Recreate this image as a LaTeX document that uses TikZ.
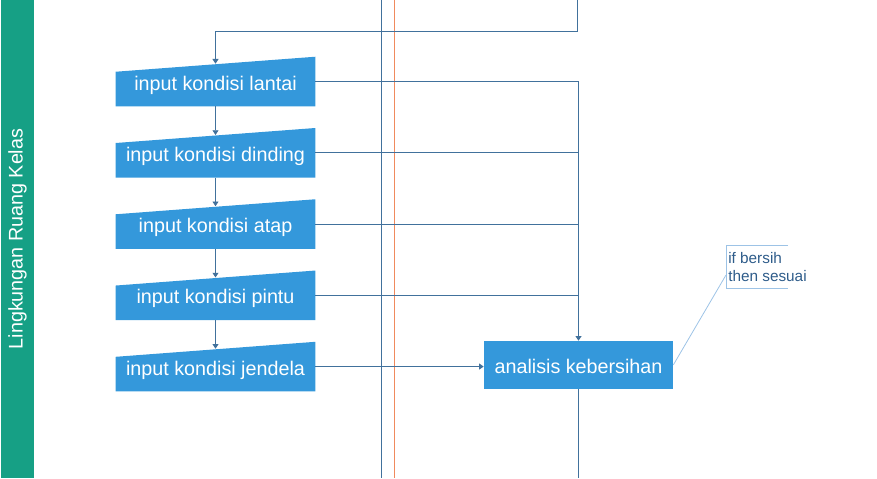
\documentclass[tikz,border=0pt]{standalone}
\usepackage{fontspec}
\setmainfont{Liberation Sans}
\usepackage{tikz}
\usetikzlibrary{arrows.meta,positioning,backgrounds,calc}
\definecolor{lanegreen}{HTML}{16A085}
\definecolor{boxblue}{HTML}{3498DB}
\definecolor{wire}{HTML}{41719C}
\definecolor{rust}{HTML}{F08A5D}
\definecolor{notewire}{HTML}{9DC3E6}
\definecolor{notetext}{HTML}{2E5C8A}

\begin{document}
\begin{tikzpicture}[
  x=0.75pt,y=-0.75pt,
  node distance=16.3pt,
  lane/.style={fill=lanegreen,rotate=90,minimum width=358.5pt,minimum height=24.75pt,inner sep=0pt,text=white,font=\fontsize{14.8}{17}\selectfont},
  inbox/.style={minimum width=149.25pt,minimum height=36.75pt,inner sep=0pt,text height=14pt,text depth=1.2pt,text=white,font=\fontsize{14.8}{17}\selectfont},
  procbox/.style={fill=boxblue,minimum width=141.75pt,minimum height=36pt,inner sep=0pt,text height=14pt,text depth=1.2pt,text=white,font=\fontsize{14.8}{17}\selectfont},
  note/.style={align=left,anchor=west,minimum height=31.5pt,inner xsep=1.5pt,inner ysep=0pt,text=notetext,font=\fontsize{11.5}{13.1}\selectfont},
  ln/.style={line width=0.65pt,color=wire},
  arr/.style={ln,-{Triangle[length=3.5pt,width=4.5pt]}},
  slant/.style={shorten >=-5.2pt}
]
\useasboundingbox (0,0) rectangle (877,478);
\node[lane] (lane) at (17.5,239) {Lingkungan Ruang Kelas};
\draw[ln] (381,0) -- (381,478);
\draw[line width=0.65pt,rust] (394,0) -- (394,478);

\node[inbox] (lantai) at (215.5,81.5) {input kondisi lantai};
\node[inbox,below=of lantai] (dinding) {input kondisi dinding};
\node[inbox,below=of dinding] (atap) {input kondisi atap};
\node[inbox,below=of atap] (pintu) {input kondisi pintu};
\node[inbox,below=of pintu] (jendela) {input kondisi jendela};
\node[procbox] (ana) at (578.5,365) {analisis kebersihan};
\node[note] (cek) at (726,267) {if bersih\\then sesuai};

\begin{scope}[on background layer]
\foreach \n in {lantai,dinding,atap,pintu,jendela}
  \fill[boxblue] (\n.south west) -- (\n.south east) -- (\n.north east) -- ($(\n.north west)+(0,15)$) -- cycle;
\end{scope}

\coordinate (top) at (577,0);
\coordinate (bot) at (ana.south |- 0,478);
\draw[arr,slant] (top) |- (215.5,31) -- (lantai.north);
\draw[arr,slant] (lantai) -- (dinding);
\draw[arr,slant] (dinding) -- (atap);
\draw[arr,slant] (atap) -- (pintu);
\draw[arr,slant] (pintu) -- (jendela);
\draw[arr] (lantai.east) -| (ana.north);
\draw[ln] (dinding.east) -- (dinding.east -| ana.north);
\draw[ln] (atap.east) -- (atap.east -| ana.north);
\draw[ln] (pintu.east) -- (pintu.east -| ana.north);
\draw[arr] (jendela.east) -- (jendela.east -| ana.west);
\draw[ln] (ana.south) -- (bot);

% annotation
\draw[notewire,line width=0.6pt] ($(cek.north west)+(62,0)$) -- (cek.north west) -- (cek.south west) -- ($(cek.south west)+(62,0)$);
\draw[notewire,line width=0.6pt] (ana.east) -- ($(cek.west)+(0,8)$);
\end{tikzpicture}
\end{document}
